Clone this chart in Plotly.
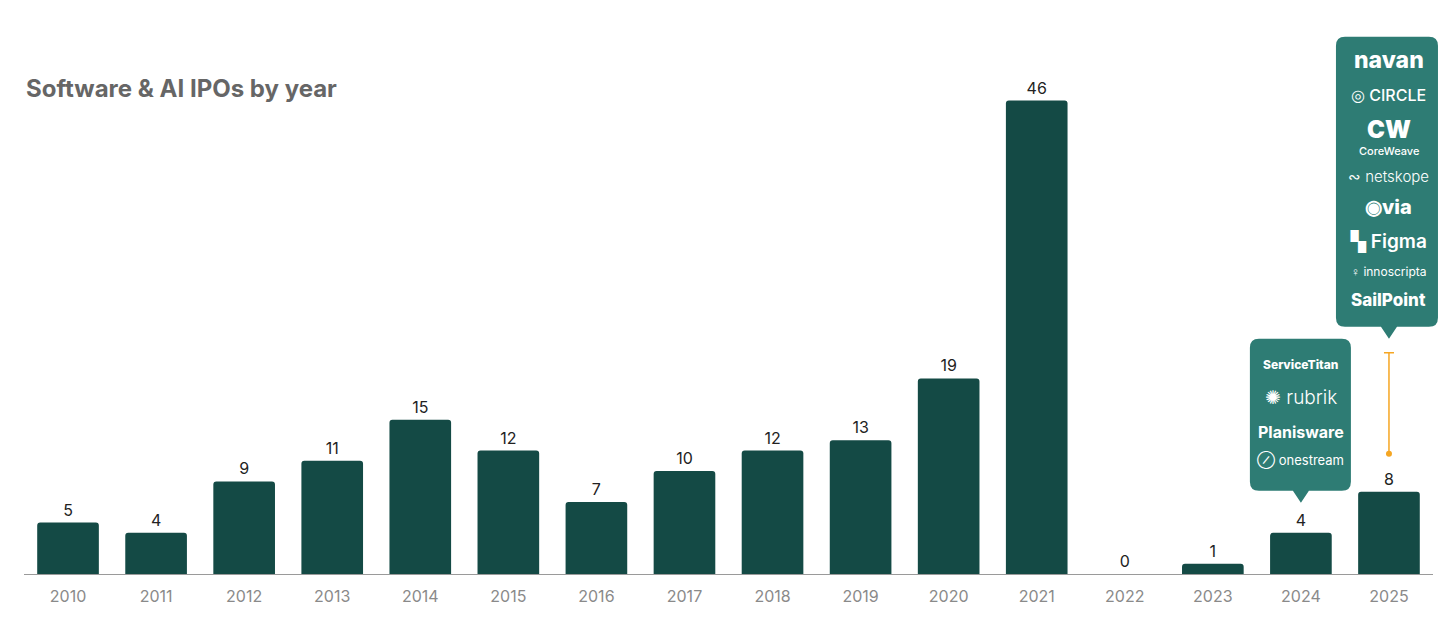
import plotly.graph_objects as go

# data
years = ['2010', '2011', '2012', '2013', '2014', '2015', '2016', '2017',
         '2018', '2019', '2020', '2021', '2022', '2023', '2024', '2025']
ipos = [5, 4, 9, 11, 15, 12, 7, 10, 12, 13, 19, 46, 0, 1, 4, 8]

logos_2024 = ['ServiceTitan', '✺ rubrik', 'Planisware', '⊘ onestream']
logos_2025 = ['navan', '◎ CIRCLE', 'CoreWeave', '∾ netskope', '◉via', '▚ Figma',
              '♀ innoscripta', 'SailPoint']

BAR = '#144A45'
CALLOUT = '#2E7C74'
ORANGE = '#F5A623'
FONT = 'Inter'

W, H = 1456, 624
M = dict(l=16, r=31, t=0, b=58)
YMAX = 55.0
PW = W - M['l'] - M['r']
PH = H - M['t'] - M['b']

fig = go.Figure(go.Bar(
    x=years, y=ipos,
    marker=dict(color=BAR, line=dict(width=0), cornerradius=3),
    text=[str(v) for v in ipos],
    textposition='outside',
    textfont=dict(family=FONT, size=16, color='#222222'),
    cliponaxis=False,
    hoverinfo='skip',
))


def anchor(i):
    # paper position of the top centre of bar i
    return (i + 0.5) / len(years), ipos[i] / YMAX


def px(ax, ay, dx, dy):
    return f'{ax + dx / PW:.5f},{ay + dy / PH:.5f}'


def callout_path(i, x0, x1, y0, y1, r=9, tip_h=12, tip_w=8):
    ax, ay = anchor(i)
    p = lambda dx, dy: px(ax, ay, dx, dy)
    return (f'M {p(x0 + r, y0)} L {p(-tip_w, y0)} L {p(0, y0 - tip_h)} L {p(tip_w, y0)} '
            f'L {p(x1 - r, y0)} Q {p(x1, y0)} {p(x1, y0 + r)} '
            f'L {p(x1, y1 - r)} Q {p(x1, y1)} {p(x1 - r, y1)} '
            f'L {p(x0 + r, y1)} Q {p(x0, y1)} {p(x0, y1 - r)} '
            f'L {p(x0, y0 + r)} Q {p(x0, y0)} {p(x0 + r, y0)} Z')


i24 = years.index('2024')
i25 = years.index('2025')
ax25, ay25 = anchor(i25)

shapes = [
    dict(type='path', xref='paper', yref='paper',
         path=callout_path(i24, -51, 50, 42, 194),
         fillcolor=CALLOUT, line=dict(width=0), layer='above'),
    dict(type='path', xref='paper', yref='paper',
         path=callout_path(i25, -53, 49, 165, 455),
         fillcolor=CALLOUT, line=dict(width=0), layer='above'),
    # orange connector above 2025
    dict(type='path', xref='paper', yref='paper',
         path=(f'M {px(ax25, ay25, 0, 38)} L {px(ax25, ay25, 0, 139)} '
               f'M {px(ax25, ay25, -5, 139)} L {px(ax25, ay25, 5, 139)}'),
         line=dict(color=ORANGE, width=1.5), layer='above'),
    dict(type='circle', xref='paper', yref='paper',
         x0=ax25 - 3 / PW, x1=ax25 + 3 / PW,
         y0=ay25 + 35 / PH, y1=ay25 + 41 / PH,
         fillcolor=ORANGE, line=dict(width=0), layer='above'),
]

annotations = [dict(
    text='Software & AI IPOs by year', xref='paper', yref='paper',
    x=0, y=(PH - 80) / PH, xanchor='left', yanchor='middle', showarrow=False,
    font=dict(family=FONT, size=24, color='#666666', weight=700),
)]

# logo names inside the callouts (pixel offsets above the bar value)
styles_2024 = [
    (168, dict(size=12, weight=800)),
    (135, dict(size=19, weight=300)),
    (101, dict(size=16, weight=700)),
    (72, dict(size=13, weight=400)),
]
styles_2025 = [
    (432, dict(size=23, weight=800)),
    (397, dict(size=16, weight=500)),
    (341, dict(size=11, weight=500)),
    (315, dict(size=15, weight=300)),
    (285, dict(size=20, weight=800)),
    (250, dict(size=19, weight=600)),
    (220, dict(size=12, weight=400)),
    (192, dict(size=17, weight=800)),
]
for i, names, styles in [(i24, logos_2024, styles_2024), (i25, logos_2025, styles_2025)]:
    ax, ay = anchor(i)
    for txt, (dy, f) in zip(names, styles):
        annotations.append(dict(
            text=txt, xref='paper', yref='paper', x=ax, y=ay + dy / PH,
            showarrow=False, xanchor='center', yanchor='middle',
            font=dict(family=FONT, color='white', **f),
        ))
# CoreWeave mark
annotations.append(dict(
    text='CW', xref='paper', yref='paper', x=ax25, y=ay25 + 362 / PH,
    showarrow=False, xanchor='center', yanchor='middle',
    font=dict(family=FONT, color='white', size=24, weight=900),
))

fig.update_layout(
    width=W, height=H,
    paper_bgcolor='white', plot_bgcolor='white',
    margin=dict(M, autoexpand=False),
    showlegend=False,
    bargap=0.3,
    xaxis=dict(
        type='category', range=[-0.5, len(years) - 0.5], autorange=False,
        showgrid=False, zeroline=False,
        showline=True, linecolor='#9a9a9a', linewidth=1,
        ticks='', tickfont=dict(family=FONT, size=16, color='#8a8a8a'),
        ticklabelstandoff=8,
    ),
    yaxis=dict(visible=False, range=[0, YMAX], autorange=False, fixedrange=True),
    shapes=shapes,
    annotations=annotations,
)

fig.write_html('out.html')
